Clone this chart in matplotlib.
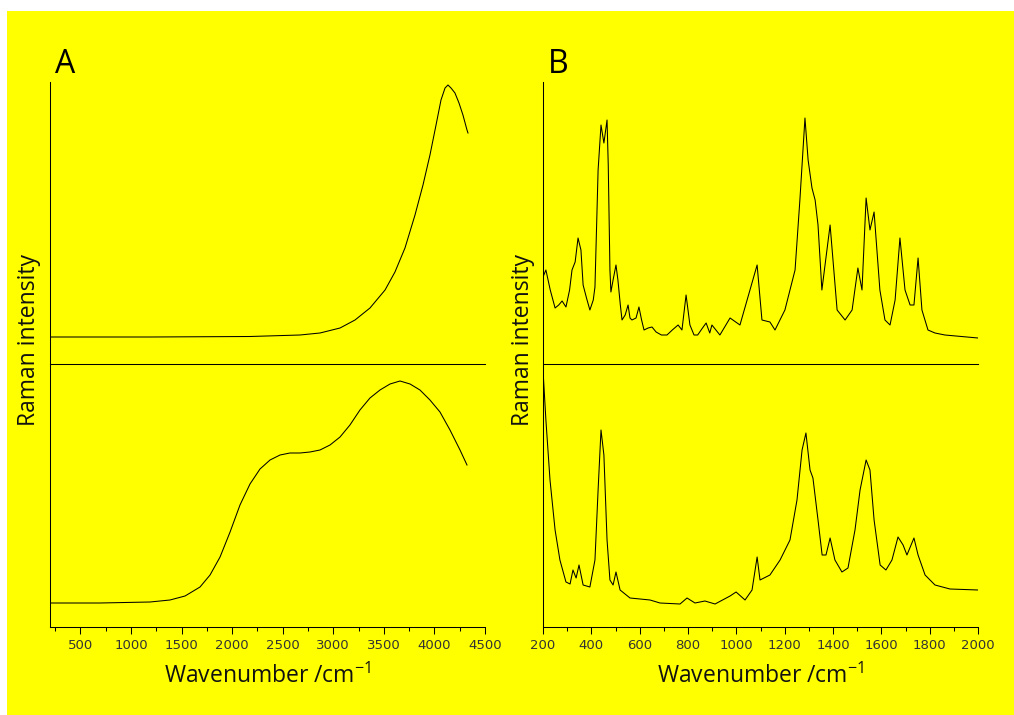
import matplotlib
matplotlib.use("Agg")
import matplotlib.pyplot as plt
from matplotlib.patches import Rectangle
from matplotlib.ticker import MultipleLocator

# ---------------- data (arbitrary intensity units) ----------------
a_top_wn = [200, 1189, 2177, 2671, 2869, 3067, 3215, 3363, 3512, 3610, 3709, 3808, 3887,
            3956, 4016, 4065, 4105, 4134, 4164, 4203, 4243, 4282, 4322, 4332]
a_top_int = [27, 27, 27.5, 29, 31, 36, 44, 56, 74, 92, 116, 149, 179,
             209, 239, 264, 276, 279, 276, 271, 261, 249, 234, 231]

a_bot_wn = [200, 694, 1189, 1386, 1535, 1683, 1782, 1881, 1980, 2078, 2177, 2276, 2375,
            2474, 2572, 2671, 2770, 2869, 2968, 3067, 3165, 3264, 3363, 3462, 3561, 3660,
            3759, 3857, 3956, 4055, 4154, 4253, 4322]
a_bot_int = [24, 24, 25, 27, 31, 40, 52, 70, 95, 122, 143, 158, 167,
             172, 174, 174, 175, 177, 182, 190, 202, 217, 229, 237, 243, 246,
             243, 237, 227, 215, 197, 177, 162]

b_top_wn = [200, 212, 230, 250, 265, 279, 295, 310, 320, 333, 345, 357, 366, 380, 394, 408,
            415, 428, 440, 452, 465, 470, 477, 481, 490, 502, 510, 520, 527, 540, 552, 560,
            568, 585, 597, 608, 618, 635, 651, 668, 690, 713, 735, 759, 775, 792, 808, 825,
            840, 860, 875, 890, 899, 932, 974, 1015, 1086, 1106, 1139, 1160, 1201, 1243,
            1263, 1284, 1297, 1313, 1326, 1338, 1354, 1388, 1417, 1450, 1479, 1503, 1520,
            1537, 1553, 1570, 1594, 1615, 1636, 1657, 1677, 1698, 1719, 1735, 1752, 1768,
            1793, 1822, 1863, 2000]
b_top_int = [87, 94, 74, 56, 59, 63, 57, 74, 94, 102, 126, 114, 79, 66, 54, 64,
             77, 194, 239, 221, 244, 199, 94, 72, 84, 99, 84, 59, 44, 49, 59, 46,
             44, 46, 57, 44, 34, 36, 37, 32, 29, 29, 34, 39, 34, 69, 39, 29,
             29, 36, 41, 31, 39, 29, 46, 39, 99, 44, 42, 34, 54, 94,
             164, 246, 204, 176, 164, 139, 74, 139, 54, 44, 54, 96, 74,
             166, 134, 152, 74, 44, 39, 64, 126, 74, 59, 59, 106, 54,
             34, 31, 29, 26]

b_bot_wn = [200, 212, 229, 250, 270, 295, 312, 324, 337, 349, 366, 394, 415, 428, 440, 452,
            465, 477, 490, 502, 519, 560, 643, 684, 767, 796, 829, 870, 912, 974, 999, 1036,
            1065, 1086, 1098, 1139, 1181, 1222, 1251, 1272, 1288, 1305, 1317, 1338, 1355,
            1371, 1388, 1408, 1437, 1462, 1491, 1512, 1537, 1553, 1570, 1595, 1619, 1644,
            1669, 1690, 1706, 1723, 1735, 1752, 1781, 1822, 1884, 2000]
b_bot_int = [257, 207, 147, 97, 67, 45, 43, 57, 49, 62, 42, 40, 67, 137, 197, 172,
             87, 47, 42, 55, 37, 29, 27, 24, 23, 29, 24, 26, 23, 31, 35, 27,
             37, 70, 47, 52, 67, 87, 127, 177, 194, 157, 149, 107, 72,
             72, 89, 67, 55, 59, 97, 137, 167, 157, 107, 62, 57, 67,
             90, 82, 72, 82, 89, 72, 52, 42, 38, 37]

panel_labels = ["A", "B"]
y_label = "Raman intensity"
x_label = "Wavenumber /cm$^{-1}$"

# ---------------- figure ----------------
W, H = 1014, 715
plt.rcParams['mathtext.fontset'] = 'custom'
plt.rcParams['mathtext.rm'] = 'Open Sans'
plt.rcParams['mathtext.it'] = 'Open Sans'
fig = plt.figure(figsize=(W / 100, H / 100), dpi=100, facecolor="white")
fig.patches.append(Rectangle((7 / W, 0), 1007 / W, 704 / H, transform=fig.transFigure,
                             facecolor="#FFFF00", edgecolor="none", zorder=-10))


def fx(px):
    return px / W


def fy(py):
    return 1 - py / H


lw = 0.75
label_font = "Open Sans"


def make_panel(x0, x1, top_wn, top_int, bot_wn, bot_int, xlim, major, minor, ylab_x, lab):
    y_top, y_sep, y_bot = 82, 364, 627
    ax_t = fig.add_axes([fx(x0), fy(y_sep), fx(x1 - x0), (y_sep - y_top) / H])
    ax_b = fig.add_axes([fx(x0), fy(y_bot), fx(x1 - x0), (y_bot - y_sep) / H])
    for ax in (ax_t, ax_b):
        ax.set_facecolor("none")
        ax.set_xlim(*xlim)
        ax.spines["top"].set_visible(False)
        ax.spines["right"].set_visible(False)
        for s in ("left", "bottom"):
            ax.spines[s].set_linewidth(lw)
            ax.spines[s].set_color("black")
        ax.set_yticks([])
    ax_t.set_ylim(0, y_sep - y_top)
    ax_b.set_ylim(0, y_bot - y_sep)
    ax_t.set_xticks([])
    ax_t.plot(top_wn, top_int, color="black", lw=lw)
    ax_b.plot(bot_wn, bot_int, color="black", lw=lw)
    ax_b.xaxis.set_major_locator(MultipleLocator(major))
    ax_b.xaxis.set_minor_locator(MultipleLocator(minor))
    ax_b.tick_params(axis="x", which="major", direction="out", length=5, width=lw,
                     labelsize=9.5, pad=3.5, colors="black")
    ax_b.tick_params(axis="x", which="minor", direction="out", length=3, width=lw)
    for t in ax_b.get_xticklabels():
        t.set_fontfamily("DejaVu Sans")
        t.set_color("#333333")
    fig.text(fx((x0 + x1) / 2), fy(683), x_label, ha="center", va="baseline",
             fontsize=16.5, family=label_font, color="#111111")
    fig.text(fx(ylab_x), fy(340), y_label, ha="center", va="center", rotation=90,
             fontsize=16.5, family=label_font, color="#111111")
    fig.text(fx(x0 + 5), fy(73), lab, ha="left", va="baseline", fontsize=23,
             family=label_font, color="black")
    return ax_t, ax_b


make_panel(50, 485, a_top_wn, a_top_int, a_bot_wn, a_bot_int, (200, 4500), 500, 250, 29,
           panel_labels[0])
make_panel(543, 978, b_top_wn, b_top_int, b_bot_wn, b_bot_int, (200, 2000), 200, 100, 523,
           panel_labels[1])

fig.savefig("out.png", dpi=100, facecolor="white")
